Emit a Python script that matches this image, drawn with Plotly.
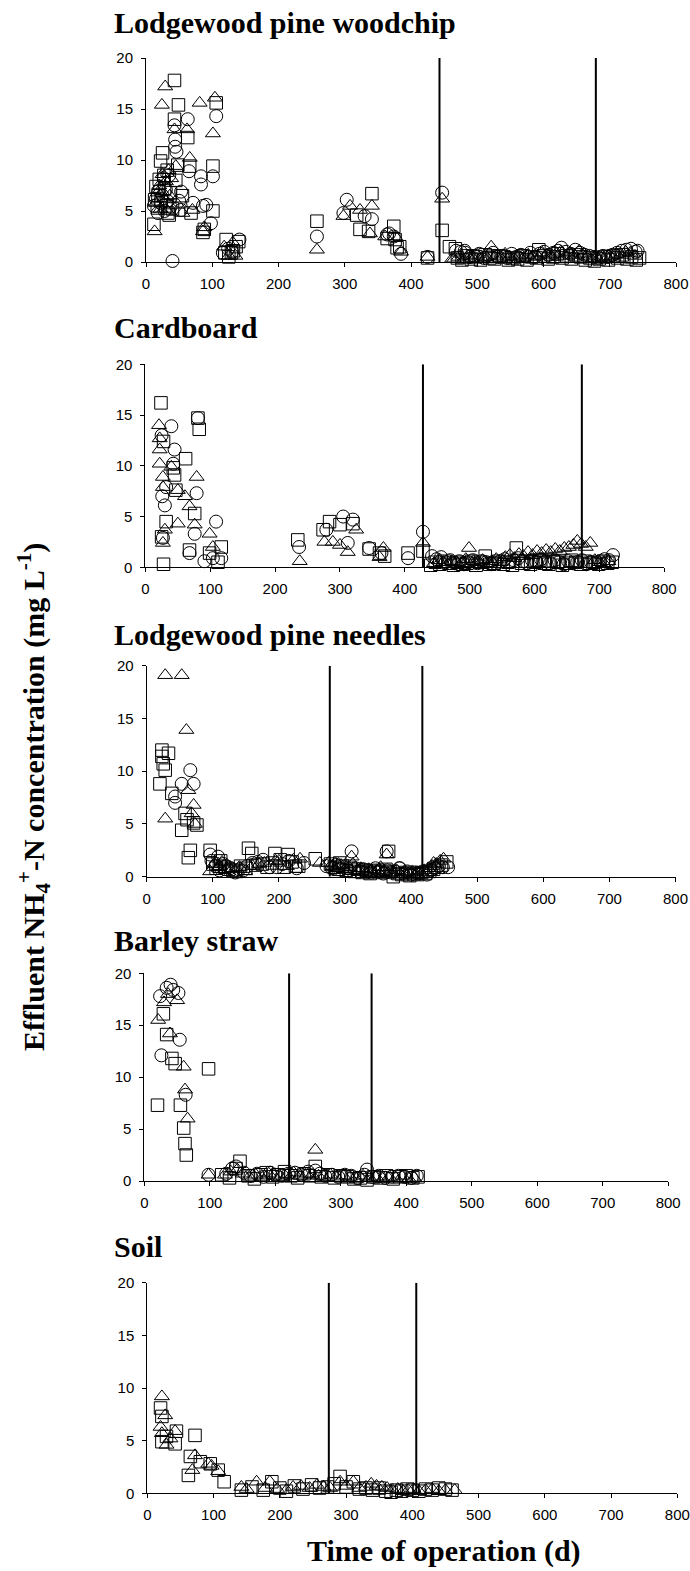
import plotly.graph_objects as go

W, H = 690, 1571

panel_titles = ["Lodgewood pine woodchip", "Cardboard", "Lodgewood pine needles", "Barley straw", "Soil"]
x_ticks = [0, 100, 200, 300, 400, 500, 600, 700, 800]
y_ticks = [0, 5, 10, 15, 20]
vlines = [[443, 679], [428, 673], [277, 417], [221, 347], [274, 406]]

# ---------- Panel 1: Lodgewood pine woodchip ----------
wc_sq_x = [12, 13, 15, 17, 18, 20, 22, 23, 25, 27, 28, 30, 32, 33, 35, 37, 40, 43, 43, 45, 48, 49, 55, 63, 66, 68, 86, 88, 101, 101, 106, 119, 121, 125, 129, 132, 136, 140, 258, 318, 323, 336, 341, 364, 374, 376, 379, 383, 425, 447, 458, 467,
           470, 477, 484, 491, 498, 505, 512, 519, 526, 533, 540, 547, 554, 561, 568, 575, 582, 589, 593, 600, 607, 614, 621, 628, 635, 642, 649, 656, 663, 670, 677, 684, 691, 698, 705, 712, 719, 726, 733, 740, 745]
wc_sq_y = [3.7, 6.1, 7.4, 5.3, 6.5, 8.1, 9.9, 6.0, 10.7, 8.5, 7.2, 5.5, 9.0, 4.8, 4.6, 6.8, 5.2, 17.8, 14.0, 8.0, 9.5, 15.4, 6.5, 12.2, 9.4, 4.8, 2.9, 3.2, 5.0, 9.4, 15.6, 0.9, 2.2, 0.5, 0.9, 1.1, 1.5, 2.0, 4.0, 4.6, 3.2, 3.0, 6.7, 2.3, 3.5, 2.2, 1.4, 1.5, 0.4, 3.1, 1.5, 1.3,
           0.4, 0.2, 0.6, 0.3, 0.5, 0.2, 0.7, 0.4, 0.3, 0.6, 0.5, 0.2, 0.4, 0.3, 0.6, 0.2, 0.5, 0.4, 1.2, 0.6, 0.3, 0.5, 0.8, 0.4, 0.6, 0.3, 0.7, 0.5, 0.2, 0.4, 0.1, 0.3, 0.5, 0.2, 0.6, 0.4, 0.7, 0.3, 0.5, 0.2, 0.4]
wc_ci_x = [12, 15, 18, 20, 22, 25, 27, 28, 30, 32, 35, 37, 40, 43, 44, 44, 46, 50, 53, 53, 63, 65, 71, 83, 83, 86, 91, 98, 101, 106, 116, 124, 130, 141, 258, 298, 303, 330, 341, 364, 367, 374, 385, 425, 447, 475, 481,
           468, 482, 489, 496, 503, 510, 517, 524, 531, 538, 545, 552, 559, 566, 573, 580, 587, 594, 601, 608, 615, 622, 627, 634, 641, 648, 655, 662, 669, 676, 683, 690, 697, 704, 711, 718, 725, 732, 739, 742]
wc_ci_y = [5.5, 6.2, 4.8, 7.0, 5.8, 6.5, 8.2, 5.0, 7.1, 6.0, 8.5, 5.4, 0.1, 13.4, 11.3, 12.0, 10.8, 6.0, 6.9, 5.1, 14.0, 8.9, 5.8, 8.4, 7.6, 5.5, 5.6, 3.8, 8.4, 14.3, 0.9, 1.3, 1.0, 2.2, 2.5, 4.8, 6.1, 4.5, 4.2, 2.7, 2.8, 2.5, 0.8, 0.5, 6.8, 1.0, 1.1,
           1.1, 0.9, 0.5, 0.6, 0.8, 0.4, 0.7, 0.9, 0.5, 0.6, 0.4, 0.8, 0.5, 0.7, 0.6, 0.9, 0.5, 0.8, 1.0, 0.7, 0.9, 1.1, 1.4, 1.0, 0.8, 1.2, 0.9, 0.7, 0.6, 0.5, 0.4, 0.6, 0.5, 0.7, 0.9, 1.1, 1.2, 1.3, 1.0, 1.1]
wc_tr_x = [13, 15, 18, 20, 22, 24, 25, 27, 29, 30, 32, 34, 36, 38, 43, 45, 48, 55, 62, 66, 70, 81, 86, 88, 101, 104, 118, 125, 131, 135, 258, 298, 308, 323, 338, 341, 361, 376, 385, 425, 447, 462,
           465, 472, 479, 486, 493, 500, 507, 514, 521, 528, 535, 542, 549, 556, 563, 570, 577, 584, 591, 598, 605, 612, 619, 626, 633, 640, 647, 654, 661, 668, 675, 682, 689, 696, 703, 710, 717, 724, 731, 738]
wc_tr_y = [3.0, 5.8, 6.8, 7.5, 5.2, 15.4, 8.6, 6.2, 17.2, 7.9, 5.0, 9.0, 6.5, 8.2, 13.0, 9.4, 5.6, 4.8, 13.0, 10.2, 5.1, 15.6, 3.0, 3.4, 12.6, 16.1, 1.5, 0.6, 1.9, 0.6, 1.2, 4.5, 5.5, 5.1, 2.8, 5.5, 2.5, 2.5, 1.0, 0.5, 6.2, 0.3,
           0.3, 0.5, 0.2, 0.6, 0.4, 0.7, 0.3, 0.5, 1.5, 0.6, 0.4, 0.8, 0.5, 0.3, 0.6, 0.4, 0.7, 0.5, 0.6, 0.9, 0.7, 0.5, 0.8, 1.0, 0.6, 0.9, 0.7, 1.1, 0.8, 0.6, 0.4, 0.3, 0.5, 0.4, 0.6, 0.8, 0.7, 1.0, 0.9, 0.6]

# ---------- Panel 2: Cardboard ----------
cb_sq_x = [24, 25, 28, 28, 32, 43, 45, 47, 62, 68, 76, 81, 83, 99, 112, 117, 235, 274, 284, 300, 320, 345, 361, 369, 405, 428,
           440, 447, 454, 461, 468, 475, 482, 489, 496, 503, 510, 517, 524, 531, 538, 545, 552, 559, 566, 572, 580, 587, 594, 601, 608, 615, 622, 629, 636, 643, 650, 657, 664, 671, 678, 685, 692, 699, 706, 713, 720]
cb_sq_y = [16.2, 3.0, 12.4, 0.3, 4.5, 9.8, 9.1, 7.6, 10.7, 1.7, 5.3, 14.7, 13.6, 1.4, 0.5, 2.0, 2.7, 3.7, 4.5, 4.2, 4.3, 1.8, 1.4, 1.1, 1.4, 1.6,
           0.2, 0.5, 0.3, 0.6, 0.4, 0.2, 0.5, 0.3, 0.4, 0.6, 0.2, 0.5, 1.1, 0.3, 0.4, 0.6, 0.3, 0.5, 0.2, 1.9, 0.4, 0.6, 0.3, 0.5, 0.7, 0.4, 0.3, 0.6, 0.5, 0.2, 0.4, 0.7, 0.5, 0.3, 0.6, 0.4, 0.5, 0.3, 0.6, 0.4, 0.5]
cb_ci_x = [25, 26, 27, 30, 32, 40, 43, 45, 68, 76, 79, 81, 91, 104, 109, 117, 237, 279, 305, 312, 320, 345, 364, 405, 428,
           442, 449, 456, 463, 470, 477, 484, 491, 498, 505, 512, 519, 526, 533, 540, 547, 554, 561, 568, 575, 582, 589, 596, 603, 610, 617, 624, 631, 638, 645, 652, 659, 666, 673, 680, 687, 694, 701, 708, 715, 721]
cb_ci_y = [13.0, 7.0, 2.9, 6.1, 7.9, 13.9, 10.2, 11.6, 1.4, 3.3, 7.3, 14.7, 0.6, 0.9, 4.5, 0.9, 2.0, 3.7, 5.0, 2.4, 4.7, 1.9, 1.4, 0.9, 3.5,
           1.1, 0.8, 1.0, 0.5, 0.7, 0.4, 0.6, 0.3, 0.5, 0.7, 0.4, 0.6, 0.5, 0.3, 0.4, 0.6, 0.8, 0.5, 0.7, 0.9, 0.6, 0.4, 0.7, 0.5, 0.8, 0.6, 0.4, 0.7, 0.5, 0.3, 0.6, 0.4, 0.5, 0.7, 0.3, 0.5, 0.4, 0.6, 0.8, 0.7, 1.2]
cb_tr_x = [21, 22, 22, 22, 27, 27, 27, 30, 40, 50, 50, 61, 68, 76, 79, 99, 104, 238, 276, 289, 300, 312, 325, 361, 367, 428,
           445, 452, 459, 466, 473, 480, 487, 494, 499, 506, 513, 520, 527, 534, 541, 548, 555, 562, 569, 576, 583, 590, 597, 604, 611, 618, 625, 632, 639, 646, 653, 660, 666, 672, 679, 686, 693, 700, 707, 714]
cb_tr_y = [14.0, 12.7, 11.6, 10.2, 8.9, 7.9, 2.4, 3.7, 9.9, 7.6, 4.3, 7.0, 6.0, 4.2, 8.9, 3.3, 2.0, 0.6, 2.5, 2.5, 2.2, 1.5, 3.7, 1.0, 1.9, 2.4,
           0.4, 0.7, 0.5, 0.3, 0.6, 0.5, 0.4, 0.8, 1.9, 0.6, 0.5, 0.7, 0.4, 0.6, 0.8, 0.5, 1.0, 1.2, 0.9, 1.3, 1.1, 1.5, 1.2, 1.6, 1.4, 1.7, 1.5, 1.8, 1.6, 1.9, 2.0, 2.2, 2.6, 2.3, 2.0, 2.4, 0.7, 0.5, 0.4, 0.6]

# ---------- Panel 3: Lodgewood pine needles ----------
pn_sq_x = [20, 23, 23, 25, 28, 33, 38, 53, 58, 61, 63, 66, 71, 76, 96, 110, 130, 154, 159, 175, 194, 214, 225, 255, 292, 366, 373, 454,
           100, 105, 112, 118, 124, 136, 142, 150, 165, 182, 190, 202, 208, 220, 230,
           278, 284, 290, 296, 302, 308, 314, 320, 326, 332, 338, 344, 350, 356, 362, 368, 380, 386, 392, 398, 404, 410, 416, 422, 428, 434, 440, 446]
pn_sq_y = [8.8, 12.0, 11.4, 10.7, 10.1, 11.7, 7.9, 4.4, 6.0, 5.4, 1.8, 2.5, 5.1, 4.9, 2.5, 1.0, 0.6, 2.7, 2.2, 1.2, 2.2, 2.1, 1.0, 1.7, 1.3, 2.4, 0.0, 1.4,
           1.2, 0.8, 1.5, 0.9, 0.7, 0.5, 1.0, 0.8, 1.1, 0.9, 1.3, 1.6, 0.9, 1.4, 1.0,
           1.2, 0.9, 0.7, 1.0, 0.6, 0.8, 0.5, 0.7, 0.4, 0.6, 0.3, 0.5, 0.6, 0.4, 0.7, 0.5, 0.3, 0.2, 0.4, 0.1, 0.3, 0.2, 0.4, 0.3, 0.5, 0.7, 0.9, 1.1]
pn_ci_x = [43, 43, 53, 66, 71, 96, 108, 120, 140, 160, 176, 197, 227, 310, 363, 383, 456,
           98, 104, 110, 116, 126, 134, 146, 152, 168, 186, 205, 215, 238,
           272, 280, 286, 292, 298, 304, 316, 322, 328, 334, 340, 346, 352, 358, 364, 370, 376, 382, 388, 394, 400, 406, 412, 418, 424, 430, 436, 442, 448]
pn_ci_y = [7.0, 7.6, 8.8, 10.1, 8.8, 2.1, 1.9, 1.0, 0.7, 1.3, 1.6, 0.9, 0.8, 2.4, 2.4, 0.8, 0.9,
           1.5, 1.0, 0.6, 1.2, 0.8, 0.4, 0.6, 1.0, 1.4, 0.9, 1.2, 1.5, 1.3,
           1.0, 0.8, 1.1, 0.7, 0.9, 0.6, 0.8, 0.5, 0.7, 0.6, 0.4, 0.8, 0.5, 0.3, 0.6, 0.4, 0.5, 0.8, 0.3, 0.5, 0.2, 0.4, 0.3, 0.5, 0.2, 0.6, 0.8, 1.0, 0.9]
pn_tr_x = [28, 53, 60, 28, 63, 71, 68, 73, 96, 110, 130, 149, 170, 200, 232, 262, 290, 310, 363, 434, 449,
           102, 108, 114, 120, 140, 160, 178, 195, 212, 222,
           275, 282, 288, 294, 300, 306, 312, 318, 324, 330, 336, 342, 348, 354, 360, 366, 372, 378, 384, 390, 396, 402, 408, 414, 420, 426, 432, 438, 444]
pn_tr_y = [19.1, 19.1, 13.9, 5.5, 8.2, 6.8, 6.0, 5.0, 0.5, 1.0, 0.8, 0.5, 1.2, 1.5, 1.7, 1.3, 1.2, 1.9, 2.1, 1.3, 1.7,
           1.2, 0.9, 1.4, 0.7, 0.9, 1.0, 1.3, 1.5, 1.0, 1.6,
           1.3, 1.0, 0.8, 1.1, 0.7, 0.9, 1.2, 0.6, 0.8, 0.5, 0.7, 0.4, 0.6, 0.9, 0.5, 0.3, 0.4, 0.6, 0.2, 0.4, 0.3, 0.5, 0.2, 0.4, 0.6, 0.8, 1.0, 1.2, 1.5]

# ---------- Panel 4: Barley straw ----------
bs_sq_x = [20, 29, 34, 42, 47, 55, 60, 62, 64, 98,
           118, 130, 140, 146, 158, 168, 178, 186, 196, 204, 214, 224, 234, 244, 252, 261, 270, 280, 290, 300, 310, 320, 330, 340, 350, 360, 370, 380, 390, 400, 410, 418]
bs_sq_y = [7.3, 16.1, 14.1, 11.8, 11.3, 7.3, 5.1, 3.6, 2.5, 10.8,
           0.6, 0.3, 1.2, 1.9, 0.5, 0.2, 0.6, 0.8, 0.4, 0.6, 0.9, 0.5, 0.3, 0.7, 0.5, 1.4, 0.4, 0.6, 0.3, 0.5, 0.4, 0.2, 0.3, 0.1, 0.4, 0.3, 0.5, 0.2, 0.4, 0.5, 0.3, 0.4]
bs_ci_x = [24, 26, 34, 40, 44, 52, 54, 63,
           98, 125, 134, 140, 152, 162, 172, 182, 192, 200, 210, 220, 230, 240, 250, 261, 268, 276, 286, 296, 306, 316, 326, 336, 340, 348, 358, 368, 378, 388, 398, 408, 416]
bs_ci_y = [17.8, 12.1, 18.6, 18.9, 18.4, 18.1, 13.6, 8.3,
           0.6, 0.7, 1.2, 1.4, 0.8, 0.5, 0.7, 0.4, 0.8, 0.6, 0.5, 0.7, 0.8, 0.6, 0.9, 1.0, 0.7, 0.5, 0.6, 0.4, 0.6, 0.5, 0.3, 0.6, 1.1, 0.4, 0.5, 0.3, 0.4, 0.5, 0.4, 0.3, 0.5]
bs_tr_x = [21, 30, 36, 39, 50, 60, 62, 66,
           98, 123, 132, 142, 150, 160, 170, 180, 190, 198, 208, 218, 228, 238, 248, 256, 261, 266, 274, 284, 294, 304, 314, 324, 334, 344, 354, 364, 374, 384, 394, 404, 412]
bs_tr_y = [15.5, 17.2, 18.0, 14.2, 17.4, 11.0, 8.8, 6.0,
           0.6, 0.6, 0.9, 1.1, 0.7, 0.4, 0.6, 0.3, 0.7, 0.5, 0.4, 0.6, 0.8, 0.5, 0.7, 0.6, 3.0, 0.5, 0.4, 0.6, 0.3, 0.5, 0.4, 0.2, 0.5, 0.3, 0.4, 0.2, 0.4, 0.3, 0.5, 0.2, 0.3]

# ---------- Panel 5: Soil ----------
so_sq_x = [20, 22, 22, 29, 42, 44, 62, 65, 72, 80, 95, 107, 116,
           142, 158, 175, 188, 200, 210, 222, 235, 248, 260, 272, 282, 291, 300, 311, 320, 330, 340, 350, 360, 368, 376, 384, 392, 400, 410, 420, 430, 440, 450, 460]
so_sq_y = [8.1, 7.3, 4.9, 5.4, 4.7, 5.9, 1.7, 3.5, 5.5, 3.0, 2.8, 2.2, 1.1,
           0.3, 0.6, 0.3, 1.1, 0.5, 0.2, 0.7, 0.4, 0.8, 0.5, 0.6, 0.9, 1.6, 0.6, 1.1, 0.4, 0.5, 0.3, 0.5, 0.2, 0.1, 0.3, 0.2, 0.4, 0.3, 0.2, 0.4, 0.3, 0.5, 0.4, 0.3]
so_tr_x = [20, 22, 22, 27, 29, 35, 42, 68, 72, 92, 97, 107,
           142, 150, 165, 178, 185, 196, 210, 220, 232, 245, 256, 266, 276, 291, 300, 311, 320, 330, 338, 346, 354, 362, 370, 378, 386, 394, 402, 410, 420, 430, 440, 450, 464]
so_tr_y = [6.3, 9.2, 5.7, 7.4, 4.6, 5.2, 5.9, 2.2, 3.6, 2.8, 2.6, 2.1,
           0.6, 0.4, 1.1, 0.5, 1.1, 0.4, 0.3, 0.6, 0.7, 0.5, 0.8, 0.6, 0.5, 1.1, 0.7, 1.1, 0.5, 0.6, 0.9, 0.7, 0.6, 0.5, 0.3, 0.4, 0.2, 0.3, 0.4, 0.2, 0.3, 0.4, 0.2, 0.3, 0.3]

panels = [
    [("square-open", wc_sq_x, wc_sq_y), ("circle-open", wc_ci_x, wc_ci_y), ("triangle-up-open", wc_tr_x, wc_tr_y)],
    [("square-open", cb_sq_x, cb_sq_y), ("circle-open", cb_ci_x, cb_ci_y), ("triangle-up-open", cb_tr_x, cb_tr_y)],
    [("square-open", pn_sq_x, pn_sq_y), ("circle-open", pn_ci_x, pn_ci_y), ("triangle-up-open", pn_tr_x, pn_tr_y)],
    [("square-open", bs_sq_x, bs_sq_y), ("circle-open", bs_ci_x, bs_ci_y), ("triangle-up-open", bs_tr_x, bs_tr_y)],
    [("square-open", so_sq_x, so_sq_y), ("triangle-up-open", so_tr_x, so_tr_y)],
]
marker_sizes = {"square-open": 12.5, "circle-open": 13, "triangle-up-open": 13}

# plot boxes in page pixels: (left, right, top(y=20), bottom(y=0))
boxes = [(146, 676, 58, 262), (145.4, 664.2, 364.3, 567.3), (146.7, 675.5, 665.7, 876.7),
         (144.4, 668.2, 973.3, 1181), (147.3, 677.3, 1282.7, 1493.3)]
title_py = [23, 327, 634, 941, 1246]


def fx(px):
    return px / W


def fy(py):
    return 1 - py / H


fig = go.Figure()
layout = dict(width=W, height=H, margin=dict(l=0, r=0, t=0, b=0, autoexpand=False),
              plot_bgcolor="white", paper_bgcolor="white", showlegend=False)
shapes = []
annotations = []
tickfont = dict(family="Liberation Sans, Arial, sans-serif", size=15, color="black")
serif = "Liberation Serif, Times New Roman, serif"

for i, (series, box) in enumerate(zip(panels, boxes)):
    n = i + 1
    xa = "x" if n == 1 else f"x{n}"
    ya = "y" if n == 1 else f"y{n}"
    for sym, xs, ys in series:
        fig.add_trace(go.Scatter(
            x=xs, y=ys, mode="markers", xaxis=xa, yaxis=ya, cliponaxis=False,
            marker=dict(symbol=sym, size=marker_sizes[sym], color="black",
                        line=dict(width=1, color="black")),
            hoverinfo="x+y"))
    l, r, t, b = box
    common = dict(showgrid=False, zeroline=False, showline=True, linecolor="black", linewidth=1,
                  ticks="outside", ticklen=4, tickcolor="black", tickwidth=1, tickfont=tickfont,
                  automargin=False)
    layout["xaxis" if n == 1 else f"xaxis{n}"] = dict(
        domain=[fx(l), fx(r)], range=[0, 800], tickvals=x_ticks, anchor=ya,
        ticklabelstandoff=4, **common)
    layout["yaxis" if n == 1 else f"yaxis{n}"] = dict(
        domain=[fy(b), fy(t)], range=[0, 20], tickvals=y_ticks, anchor=xa,
        ticklabelstandoff=5, **common)
    for v in vlines[i]:
        shapes.append(dict(type="line", xref=xa, yref=ya, x0=v, x1=v, y0=0, y1=20,
                           line=dict(color="black", width=2)))
    annotations.append(dict(text=f"<b>{panel_titles[i]}</b>", xref="paper", yref="paper",
                            x=fx(112), y=fy(title_py[i]), xanchor="left", yanchor="middle",
                            showarrow=False, font=dict(family=serif, size=30, color="black")))

annotations.append(dict(text="<b>Time of operation (d)</b>", xref="paper", yref="paper",
                        x=fx(444), y=fy(1551), xanchor="center", yanchor="middle",
                        showarrow=False, font=dict(family=serif, size=30, color="black")))
annotations.append(dict(text="<b>Effluent NH<sub>4</sub><sup>+</sup>-N concentration (mg L<sup>-1</sup>)</b>",
                        xref="paper", yref="paper", x=fx(33), y=fy(797), textangle=-90,
                        xanchor="center", yanchor="middle", showarrow=False,
                        font=dict(family=serif, size=30, color="black")))

layout["shapes"] = shapes
layout["annotations"] = annotations
fig.update_layout(**layout)
fig.write_html("out.html")
